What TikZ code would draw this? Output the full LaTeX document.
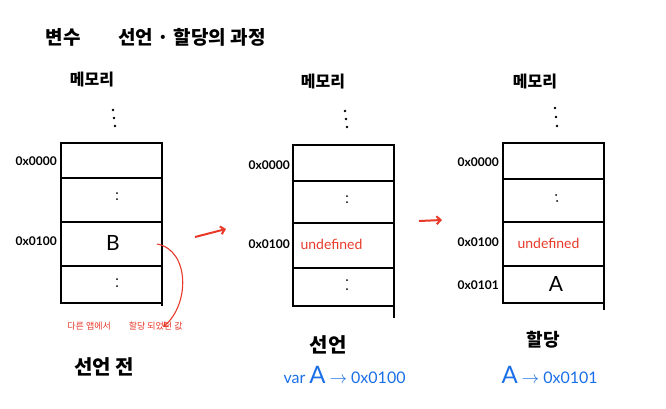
\documentclass[tikz,border=0pt]{standalone}
\usepackage{fontspec}
\setmainfont{Lato}
\newfontfamily\kr{Noto Sans CJK KR}
\usetikzlibrary{arrows.meta}
\definecolor{penred}{HTML}{E8392A}
\definecolor{penblue}{HTML}{1A6FE8}
\tikzset{
  cell/.style={draw, line width=1.3pt, minimum width=101pt, inner sep=0pt, outer sep=0pt, anchor=north west},
  addr/.style={font=\fontsize{12}{14}\selectfont\bfseries, anchor=east, inner sep=1pt},
  head/.style={font=\kr\fontsize{16}{18}\selectfont\bfseries},
  dot/.style={fill, circle, inner sep=0pt, minimum size=2.6pt},
  sdot/.style={fill, circle, inner sep=0pt, minimum size=2pt},
  redarrow/.style={draw=penred, line width=2pt, -{Straight Barb[length=4pt,width=8pt]}},
  undef/.style={text=penred, font=\fontsize{14}{16}\selectfont},
  caption/.style={font=\kr\fontsize{20}{22}\selectfont\bfseries},
  bluetxt/.style={text=penblue, font=\fontsize{16}{18}\selectfont}
}
\begin{document}
\begin{tikzpicture}[x=1pt,y=-1pt]
\useasboundingbox (0,0) rectangle (666,408);
% title
\node[font=\kr\fontsize{19}{21}\selectfont\bfseries, anchor=west] (title) at (42,37) {변수\qquad 선언\ ·\ 할당의 과정};

% ---------- left column ----------
\node[head] (h1) at (92,80) {메모리};
\node[dot] (d1a) at (113,110) {};
\node[dot] (d1b) at (114,118) {};
\node[dot] (d1c) at (115,126) {};
\node[cell, minimum height=35pt] (L1) at (61,143) {};
\node[cell, minimum height=44pt] (L2) at (61,178) {};
\node[cell, minimum height=44pt] (L3) at (61,222) {};
\node[cell, minimum height=37pt] (L4) at (61,266) {};
\coordinate (L4end) at (162,306);
\draw[line width=1.3pt] (L4.south east) -- (L4end);
\node[sdot] (L2a) at (117,193) {};
\node[sdot] (L2b) at (117,199) {};
\node[sdot] (L4a) at (117,279) {};
\node[sdot] (L4b) at (117,286) {};
\node[font=\fontsize{21}{23}\selectfont] (B) at (113,243) {B};
\node[addr] (L1t) at (58,161) {0x0000};
\node[addr] (L3t) at (58,241) {0x0100};
\node[font=\kr\fontsize{9}{10}\selectfont, text=penred] (note) at (125,326) {다른 앱에서\qquad 할당 되었던 값};
\coordinate (cs) at (157,244);
\coordinate (ce) at (163,327);
\draw[penred, line width=1.1pt, -{Straight Barb[length=4pt,width=6pt]}] (cs) .. controls (190,250) and (190,305) .. (ce);
\node[caption] (c1) at (104,367) {선언 전};

\coordinate (a1s) at (195,237);
\coordinate (a1e) at (226,229);
\draw[redarrow] (a1s) -- (a1e);

% ---------- middle column ----------
\node[head] (h2) at (323,82) {메모리};
\node[dot] (d2a) at (345,111) {};
\node[dot] (d2b) at (346,119) {};
\node[dot] (d2c) at (347,127) {};
\node[cell, minimum height=36pt] (M1) at (293,145) {};
\node[cell, minimum height=42pt] (M2) at (293,181) {};
\node[cell, minimum height=45pt] (M3) at (293,223) {};
\node[cell, minimum height=38pt] (M4) at (293,268) {};
\coordinate (M4end) at (394,318);
\draw[line width=1.3pt] (M4.south east) -- (M4end);
\node[sdot] (M2a) at (347,196) {};
\node[sdot] (M2b) at (347,202) {};
\node[sdot] (M4a) at (347,280) {};
\node[sdot] (M4b) at (347,289) {};
\node[undef, anchor=west] (u1) at (297,244) {undefined};
\node[addr] (M1t) at (291,165) {0x0000};
\node[addr] (M3t) at (291,244) {0x0100};
\node[caption] (c2) at (328,345) {선언};
\node[bluetxt, anchor=west] (v2) at (280,375) {var {\fontsize{24}{26}\selectfont A} $\rightarrow$ 0x0100};

\coordinate (a2s) at (419,221);
\coordinate (a2e) at (442,220);
\draw[redarrow] (a2s) -- (a2e);

% ---------- right column ----------
\node[head] (h3) at (535,82) {메모리};
\node[dot] (d3a) at (555,108) {};
\node[dot] (d3b) at (556,117) {};
\node[dot] (d3c) at (557,126) {};
\node[cell, minimum height=36pt] (R1) at (503,143) {};
\node[cell, minimum height=43pt] (R2) at (503,179) {};
\node[cell, minimum height=44pt] (R3) at (503,222) {};
\node[cell, minimum height=37pt] (R4) at (503,266) {};
\coordinate (R4end) at (604,310);
\draw[line width=1.3pt] (R4.south east) -- (R4end);
\node[sdot] (R2a) at (556,195) {};
\node[sdot] (R2b) at (557,201) {};
\node[undef, anchor=west] (u2) at (514,243) {undefined};
\node[font=\fontsize{21}{23}\selectfont] (A) at (556,284) {A};
\node[addr] (R1t) at (500,162) {0x0000};
\node[addr] (R3t) at (500,242) {0x0100};
\node[addr] (R4t) at (500,285) {0x0101};
\node[caption, font=\kr\fontsize{18}{20}\selectfont\bfseries] (c3) at (543,340) {할당};
\node[bluetxt, anchor=west] (v3) at (498,375) {{\fontsize{24}{26}\selectfont A}\ $\rightarrow$ 0x0101};
\end{tikzpicture}
\end{document}
